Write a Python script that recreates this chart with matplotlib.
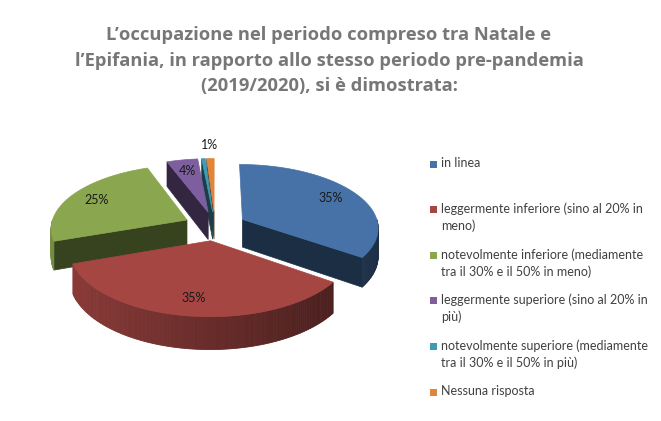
import numpy as np
import matplotlib.pyplot as plt
from matplotlib.patches import Polygon, Rectangle
from matplotlib.colors import to_rgb

title_lines = [
    "L’occupazione nel periodo compreso tra Natale e",
    "l’Epifania, in rapporto allo stesso periodo pre-pandemia",
    "(2019/2020), si è dimostrata:",
]
categories = [
    "in linea",
    "leggermente inferiore (sino al 20% in\nmeno)",
    "notevolmente inferiore (mediamente\ntra il 30% e il 50% in meno)",
    "leggermente superiore (sino al 20% in\npiù)",
    "notevolmente superiore (mediamente\ntra il 30% e il 50% in più)",
    "Nessuna risposta",
]
shares = [34.8, 34.8, 24.7, 4.2, 0.5, 1.0]
colors = ["#4672A8", "#A54643", "#8AA64E", "#7D5FA0", "#3F9BB5", "#E0853A"]

# geometry of the tilted pie (pixels)
cx, cy = 215, 226
rx, ry = 136, 63
persp = 0.12
depth = 28
explode = 0.23

plt.rcParams["font.family"] = ["Lato", "DejaVu Sans"]


def project(u, v, drop=0.0):
    k = 1 + persp * v
    return cx + rx * u / k, cy - ry * v / k + drop / k


def shade(c, f):
    r, g, b = to_rgb(c)
    return (r * f, g * f, b * f)


def main():
    fig = plt.figure(figsize=(6.61, 4.21), dpi=100)
    ax = fig.add_axes([0, 0, 1, 1])
    ax.set_xlim(0, 661)
    ax.set_ylim(421, 0)
    ax.axis("off")

    total = sum(shares)
    cum = np.concatenate([[0], np.cumsum(shares)]) / total
    slices = []
    for i in range(len(shares)):
        a_hi = np.radians(90 - 360 * cum[i])
        a_lo = np.radians(90 - 360 * cum[i + 1])
        m = (a_lo + a_hi) / 2
        ox, oy = explode * np.cos(m), explode * np.sin(m)
        slices.append((i, a_lo, a_hi, m, ox, oy))

    # back slices first
    order = sorted(slices, key=lambda s: -s[5])
    for i, a_lo, a_hi, m, ox, oy in order:
        col = colors[i]
        t = np.linspace(a_lo, a_hi, max(8, int((a_hi - a_lo) * 60)))
        top = [project(ox, oy)] + [project(ox + np.cos(a), oy + np.sin(a)) for a in t]

        # radial walls
        for a, nrm in ((a_hi, a_hi + np.pi / 2), (a_lo, a_lo - np.pi / 2)):
            if np.sin(nrm) < -1e-6:
                p1 = project(ox, oy)
                p2 = project(ox + np.cos(a), oy + np.sin(a))
                p3 = project(ox + np.cos(a), oy + np.sin(a), depth)
                p4 = project(ox, oy, depth)
                ax.add_patch(Polygon([p1, p2, p3, p4], closed=True,
                                     facecolor=shade(col, 0.4),
                                     edgecolor=shade(col, 0.4), lw=0.5))

        # outer rim, front half only
        for a0, a1 in zip(t[:-1], t[1:]):
            am = (a0 + a1) / 2
            if np.sin(am) >= 0:
                continue
            f = 0.63 - 0.22 * np.cos(am)
            q = [project(ox + np.cos(a0), oy + np.sin(a0)),
                 project(ox + np.cos(a1), oy + np.sin(a1)),
                 project(ox + np.cos(a1), oy + np.sin(a1), depth),
                 project(ox + np.cos(a0), oy + np.sin(a0), depth)]
            ax.add_patch(Polygon(q, closed=True, facecolor=shade(col, f),
                                 edgecolor=shade(col, f), lw=0.6))

        ax.add_patch(Polygon(top, closed=True, facecolor=col,
                             edgecolor=col, lw=0.5))

    # data labels
    for i, a_lo, a_hi, m, ox, oy in slices:
        pct = int(round(100 * shares[i] / total))
        if pct == 0:
            continue
        r = 0.78 if shares[i] >= 3 else 1.3
        x, y = project(ox + r * np.cos(m), oy + r * np.sin(m))
        ax.text(x, y, f"{pct}%", ha="center", va="center", fontsize=9,
                color="#1a1a1a", zorder=10)

    # title
    for k, line in enumerate(title_lines):
        ax.text(329, 40 + 25.5 * k, line, ha="center", va="baseline",
                fontsize=13.2, fontweight="bold", color="#777777",
                family=["Open Sans", "DejaVu Sans"])

    # legend
    for k, (lab, col) in enumerate(zip(categories, colors)):
        y = 164 + 45.6 * k
        ax.add_patch(Rectangle((430, y - 3.5), 7, 7, facecolor=col,
                               edgecolor="none"))
        ax.text(441, y - 7, lab, ha="left", va="top", fontsize=9,
                color="#404040", linespacing=1.4)

    fig.savefig("out.png", dpi=100)


if __name__ == "__main__":
    main()
